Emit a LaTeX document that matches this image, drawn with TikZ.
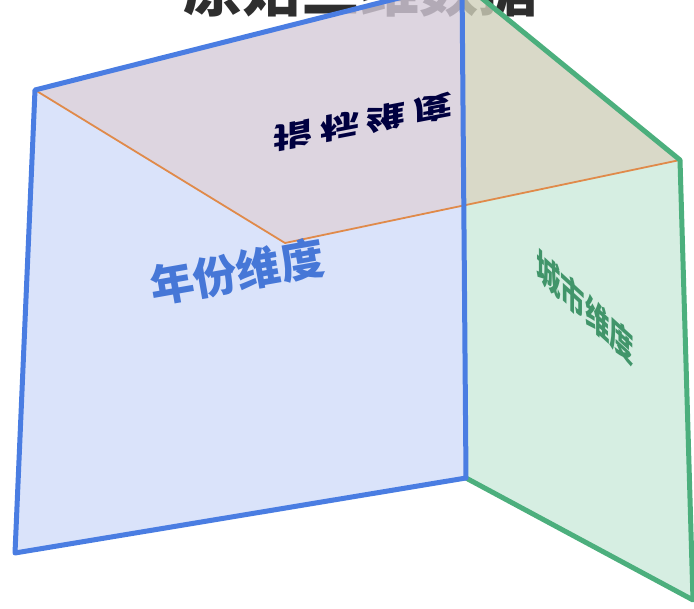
\documentclass[tikz,border=0pt]{standalone}
\usepackage{fontspec}
\usepackage{tikz}
\newfontfamily\cjk{Noto Sans CJK SC}
\definecolor{yearline}{HTML}{4A7DE2}
\definecolor{yearfill}{HTML}{D1DCF9}
\definecolor{cityline}{HTML}{4CAF7D}
\definecolor{cityfill}{HTML}{CCEADB}
\definecolor{metricfill}{HTML}{D4CAD8}
\definecolor{metricmix}{HTML}{D0D0BA}
\definecolor{metricline}{HTML}{E08A4A}
\def\edgewidth{5pt}

\begin{document}
\begin{tikzpicture}[x=1pt,y=-1pt]
        \tikzstyle{face}=[fill opacity=0.8, draw=none]
        \tikzstyle{edge}=[line width=\edgewidth, line join=round]
        \tikzstyle{label}=[inner sep=0pt, font=\cjk\bfseries]
        \tikzstyle{title}=[label, text=black!82, font=\cjk\bfseries\fontsize{59}{60}\selectfont]
        \useasboundingbox (0,0) rectangle (694,609);

        % Draw the title, it sits behind the faces
        \node[title, anchor=base] (title) at (360,12) {原始三维数据};

        % Corners of the three faces
        \coordinate (top) at (462,-18);
        \coordinate (Y-1) at (35,90);
        \coordinate (Y-2) at (466,478);
        \coordinate (Y-3) at (15,553);
        \coordinate (C-1) at (680,160);
        \coordinate (C-2) at (693,600);
        \coordinate (corner) at (285,243);
        \coordinate (mid) at (463.8,205);

        % Fill the faces
        \fill[face, yearfill] (Y-1) -- (corner) -- (mid) -- (Y-2) -- (Y-3) -- cycle;
        \fill[face, cityfill] (mid) -- (C-1) -- (C-2) -- (Y-2) -- cycle;
        \fill[face, metricfill] (Y-1) -- (top) -- (mid) -- (corner) -- cycle;
        \fill[face, metricmix] (top) -- (C-1) -- (mid) -- cycle;

        % Draw the edges
        \draw[metricline, line width=1.8pt] (Y-1) -- (corner) -- (C-1);
        \draw[edge, cityline] (top) -- (C-1) -- (C-2) -- (Y-2);
        \draw[edge, yearline] (Y-1) -- (top) -- (Y-2) -- (Y-3) -- cycle;

        % Annotate the faces
        \node[label, text=yearline!95!black, rotate=10,
              font=\cjk\bfseries\fontsize{44}{44}\selectfont] (year) at (237,272) {年份维度};
        \node[label, text=cityline!85!black, cm={0.7,-0.64,0,1.05,(0,0)},
              font=\cjk\bfseries\fontsize{35}{35}\selectfont] (city) at (585,307) {城市维度};
        \node[label, text=blue!25!black, cm={1.3,0.25,0,-0.95,(0,0)},
              font=\cjk\bfseries\fontsize{30}{30}\selectfont] (metric) at (363,122)
              {指\hspace{0.2em}标\hspace{0.2em}维\hspace{0.2em}度};
    \end{tikzpicture}
\end{document}
